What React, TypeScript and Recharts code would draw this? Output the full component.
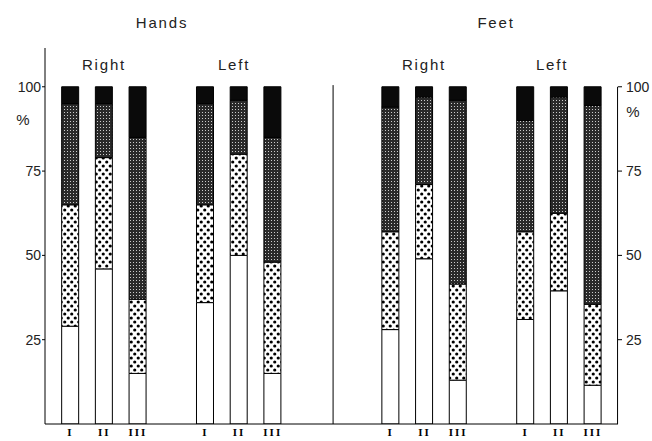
import { BarChart, Bar, XAxis, YAxis, ReferenceLine } from "recharts";

// bar order: Hands Right I-III, Hands Left I-III, Feet Right I-III, Feet Left I-III
const categories = ["I", "II", "III", "I", "II", "III", "I", "II", "III", "I", "II", "III"];
const positions = [0, 1, 2, 4, 5, 6, 9.5, 10.5, 11.5, 13.5, 14.5, 15.5];

const whiteShare = [29, 46, 15, 36, 50, 15, 28, 49, 13, 31, 39.5, 11.5];
const dottedShare = [36, 33, 22, 29, 30, 33, 29, 22, 28.5, 26, 23, 24];
const grayShare = [30, 16, 48, 30, 16, 37, 37, 26, 54.5, 33, 34.5, 59];
const blackShare = [5, 5, 15, 5, 4, 15, 6, 3, 4, 10, 3, 5.5];

const yTicks = [25, 50, 75, 100];

const data = positions.map((pos, i) => ({
  pos,
  label: categories[i],
  white: whiteShare[i],
  dotted: dottedShare[i],
  gray: grayShare[i],
  black: blackShare[i],
}));

const font = "'Liberation Sans', Arial, sans-serif";

const textStyle = (left: number, top: number, size = 15) => ({
  position: "absolute" as const,
  left,
  top,
  transform: "translate(-50%, -50%)",
  fontFamily: font,
  fontSize: size,
  letterSpacing: 1.8,
  color: "#222",
  whiteSpace: "nowrap" as const,
});

export default function App() {
  return (
    <div style={{ position: "absolute", left: 0, top: 0, width: 652, height: 441, background: "#fff" }}>
      <BarChart
        width={652}
        height={441}
        data={data}
        margin={{ top: 48, right: 4, left: 10, bottom: 0 }}
        barSize={17}
      >
        <defs>
          <pattern id="dots" width="7" height="8" patternUnits="userSpaceOnUse">
            <rect width="7" height="8" fill="#fff" />
            <circle cx="1.75" cy="2" r="1.6" fill="#000" />
            <circle cx="5.25" cy="6" r="1.6" fill="#000" />
          </pattern>
          <pattern id="stipple" width="3" height="3" patternUnits="userSpaceOnUse">
            <rect width="3" height="3" fill="#2a2a2a" />
            <rect x="1" y="1" width="1" height="1" fill="#ccc" />
          </pattern>
        </defs>
        <XAxis
          type="number"
          dataKey="pos"
          domain={[-0.757, 16.243]}
          allowDataOverflow
          ticks={positions}
          interval={0}
          tickFormatter={(v) => categories[positions.indexOf(v)]}
          tickLine={false}
          axisLine={{ stroke: "#000" }}
          tick={{ fill: "#000", fontSize: 11, fontWeight: 700, fontFamily: "'Liberation Serif', serif", letterSpacing: 2, dy: -2, opacity: 0.99 }}
          tickMargin={0}
          height={17}
        />
        <YAxis
          yAxisId="left"
          domain={[0, 111.5]}
          ticks={yTicks}
          allowDataOverflow
          width={35}
          axisLine={{ stroke: "#000" }}
          tickLine={{ stroke: "#000" }}
          tickSize={3}
          tickMargin={1}
          tick={{ fill: "#222", fontSize: 14, fontFamily: font }}
        />
        <YAxis
          yAxisId="right"
          orientation="right"
          domain={[0, 111.5]}
          ticks={yTicks}
          allowDataOverflow
          width={30}
          axisLine={false}
          tickLine={{ stroke: "#000" }}
          tickSize={4}
          tickMargin={4}
          tick={{ fill: "#222", fontSize: 14, fontFamily: font, textAnchor: "start" }}
        />
        <ReferenceLine
          yAxisId="left"
          segment={[{ x: 7.79, y: 0 }, { x: 7.79, y: 100.5 }]}
          stroke="#000"
        />
        <ReferenceLine
          yAxisId="left"
          segment={[{ x: 16.23, y: 0 }, { x: 16.23, y: 100 }]}
          stroke="#000"
        />
        <Bar yAxisId="left" dataKey="white" stackId="a" fill="#fff" stroke="#000" strokeWidth={1} isAnimationActive={false} />
        <Bar yAxisId="left" dataKey="dotted" stackId="a" fill="url(#dots)" stroke="#000" strokeWidth={1} isAnimationActive={false} />
        <Bar yAxisId="left" dataKey="gray" stackId="a" fill="url(#stipple)" stroke="#000" strokeWidth={1} isAnimationActive={false} />
        <Bar yAxisId="left" dataKey="black" stackId="a" fill="#0a0a0a" stroke="#000" strokeWidth={1} isAnimationActive={false} />
      </BarChart>

      <div style={textStyle(162, 22)}>Hands</div>
      <div style={textStyle(496, 22)}>Feet</div>
      <div style={textStyle(104, 64)}>Right</div>
      <div style={textStyle(234, 64)}>Left</div>
      <div style={textStyle(424, 64)}>Right</div>
      <div style={textStyle(552, 64)}>Left</div>
      <div style={{ ...textStyle(23, 119, 15), letterSpacing: 0 }}>%</div>
      <div style={{ ...textStyle(633, 111, 15), letterSpacing: 0 }}>%</div>
    </div>
  );
}
